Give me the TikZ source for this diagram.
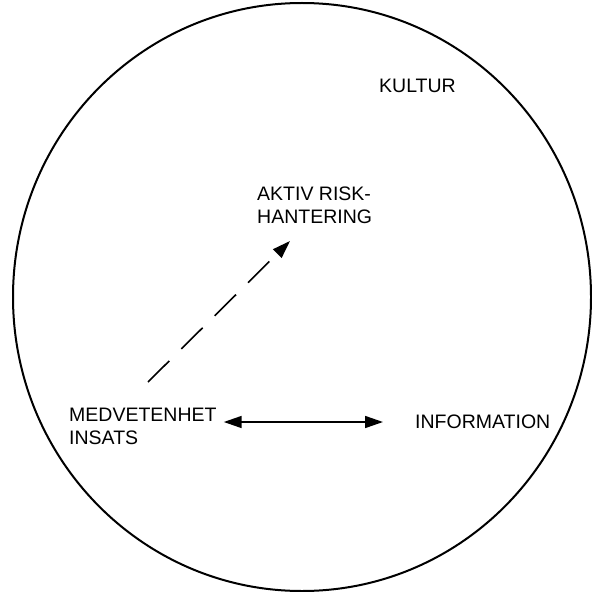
\documentclass[tikz,border=0pt]{standalone}
\usepackage{fontspec}
\setmainfont{Liberation Sans}
\usetikzlibrary{arrows.meta, positioning, calc}
\tikzset{
  lbl/.style={anchor=north west, inner sep=0pt, align=left,
    font=\fontsize{19.5bp}{23bp}\selectfont},
  rim/.style={draw, line width=2bp},
  dblarr/.style={{Triangle[length=18bp, width=12bp]}-{Triangle[length=18bp, width=12bp]}, line width=1.6bp},
  dasharr/.style={-{Triangle[length=18bp, width=12bp]}, line width=1.6bp, dash pattern=on 30bp off 17bp},
}

\begin{document}
\begin{tikzpicture}[x=1bp, y=-1bp]
    \useasboundingbox (0,0) rectangle (592,592);
    \draw[rim] (302,297) ellipse [x radius=289, y radius=294];
    % labels
    \node[lbl] (kultur) at (379,79) {KULTUR};
    \node[lbl] (aktiv) at (257,187) {AKTIV RISK-\\HANTERING};
    \node[lbl] (medv) at (69,408) {MEDVETENHET\\INSATS};
    \node[lbl] (info) at (415,415) {INFORMATION};
    % connectors
    \coordinate (dstart) at ($(medv.north west)+(79,-26)$);
    \coordinate (dtip) at ($(aktiv.north west)+(33,54)$);
    \draw[dasharr] (dstart) -- (dtip);
    \draw[dblarr] ($(medv.north east)+(7,14)$) -- ($(info.north west)+(-32,7)$);
  \end{tikzpicture}
\end{document}
